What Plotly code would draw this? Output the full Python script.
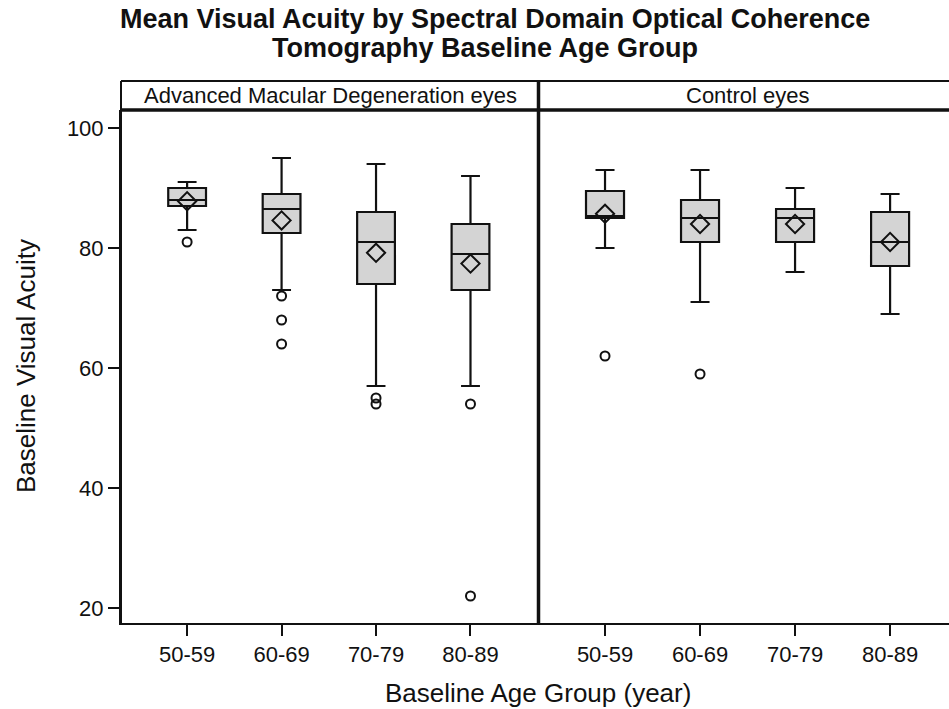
import plotly.graph_objects as go

# ---------------- data ----------------
categories = ["50-59", "60-69", "70-79", "80-89"]

amd_upper = [91, 95, 94, 92]
amd_q3 = [90, 89, 86, 84]
amd_median = [88, 86.5, 81, 79]
amd_q1 = [87, 82.5, 74, 73]
amd_lower = [83, 73, 57, 57]
amd_mean = [87.8, 84.6, 79.2, 77.4]
amd_outliers = [[81], [72, 68, 64], [55, 54], [54, 22]]

ctl_upper = [93, 93, 90, 89]
ctl_q3 = [89.5, 88, 86.5, 86]
ctl_median = [85.3, 85, 85, 81]
ctl_q1 = [85, 81, 81, 77]
ctl_lower = [80, 71, 76, 69]
ctl_mean = [85.7, 84, 84, 81]
ctl_outliers = [[62], [59], [], []]

panel_titles = ["Advanced Macular Degeneration eyes", "Control eyes"]
title_lines = ["Mean Visual Acuity by Spectral Domain Optical Coherence",
               "Tomography Baseline Age Group"]
y_ticks = [20, 40, 60, 80, 100]

# ---------------- layout geometry ----------------
W, H = 949, 709
ML, MR, MT, MB = 121, 0, 110, 86
PW, PH = W - ML - MR, H - MT - MB
FONT = "Liberation Sans, Arial, Helvetica, sans-serif"
INK = "#111111"


def px_x(px):
    return (px - ML) / PW


def px_y(py):
    return (H - MB - py) / PH


split = px_x(538.5)

fig = go.Figure()

panels = [
    ("x", amd_q1, amd_median, amd_q3, amd_lower, amd_upper, amd_mean, amd_outliers),
    ("x2", ctl_q1, ctl_median, ctl_q3, ctl_lower, ctl_upper, ctl_mean, ctl_outliers),
]

for xa, q1, med, q3, lo, up, mean, outs in panels:
    fig.add_trace(go.Box(
        x=categories, q1=q1, median=med, q3=q3,
        lowerfence=lo, upperfence=up,
        width=0.4, whiskerwidth=0.5,
        fillcolor="#d4d4d4",
        line=dict(color=INK, width=2.2),
        boxpoints=False, xaxis=xa, yaxis="y", showlegend=False,
        hoverinfo="skip",
    ))
    ox, oy = [], []
    for c, vals in zip(categories, outs):
        for v in vals:
            ox.append(c)
            oy.append(v)
    fig.add_trace(go.Scatter(
        x=ox, y=oy, mode="markers", xaxis=xa, yaxis="y",
        marker=dict(symbol="circle-open", size=9, color=INK,
                    line=dict(width=2, color=INK)),
        showlegend=False, hoverinfo="skip",
    ))
    fig.add_trace(go.Scatter(
        x=categories, y=mean, mode="markers", xaxis=xa, yaxis="y",
        marker=dict(symbol="diamond-open", size=14, color=INK,
                    line=dict(width=2, color=INK)),
        showlegend=False, hoverinfo="skip",
    ))

axis_common = dict(
    type="category", categoryorder="array", categoryarray=categories,
    showgrid=False, zeroline=False, showline=True, linecolor=INK,
    linewidth=2, ticks="outside", ticklen=11, tickwidth=1.5,
    tickcolor=INK, tickfont=dict(family=FONT, size=22, color=INK),
)

fig.update_layout(
    width=W, height=H,
    margin=dict(l=ML, r=MR, t=MT, b=MB),
    paper_bgcolor="white", plot_bgcolor="white",
    font=dict(family=FONT, color=INK),
    xaxis=dict(domain=[0, split], range=[-0.70, 3.72], anchor="y", **axis_common),
    xaxis2=dict(domain=[split, 1], range=[-0.70, 3.62], anchor="y", **axis_common),
    yaxis=dict(
        range=[17.5, 103], tickvals=y_ticks, showgrid=False, zeroline=False,
        showline=True, linecolor=INK, linewidth=2, ticks="outside",
        ticklen=11, tickwidth=1.5, tickcolor=INK,
        tickfont=dict(family=FONT, size=22, color=INK),
    ),
    showlegend=False,
)

# frame / header strip
hdr_top = px_y(81)
shapes = [
    dict(type="line", xref="paper", yref="paper", x0=0, x1=1.05, y0=hdr_top, y1=hdr_top,
         line=dict(color=INK, width=2)),
    dict(type="line", xref="paper", yref="paper", x0=0, x1=1.05, y0=1, y1=1,
         line=dict(color=INK, width=3.5)),
    dict(type="line", xref="paper", yref="paper", x0=0, x1=0, y0=0, y1=hdr_top,
         line=dict(color=INK, width=2)),
    dict(type="line", xref="paper", yref="paper", x0=split, x1=split, y0=0, y1=hdr_top,
         line=dict(color=INK, width=3.5)),
]
fig.update_layout(shapes=shapes)

ann = [
    dict(text=panel_titles[0], x=px_x(330), y=px_y(95.5), xref="paper", yref="paper",
         showarrow=False, font=dict(family=FONT, size=22, color=INK),
         xanchor="center", yanchor="middle"),
    dict(text=panel_titles[1], x=px_x(748), y=px_y(95.5), xref="paper", yref="paper",
         showarrow=False, font=dict(family=FONT, size=22, color=INK),
         xanchor="center", yanchor="middle"),
    dict(text="<b>" + title_lines[0] + "</b>",
         x=px_x(495), y=px_y(19), xref="paper", yref="paper", showarrow=False,
         font=dict(family=FONT, size=27, color=INK),
         xanchor="center", yanchor="middle"),
    dict(text="<b>" + title_lines[1] + "</b>",
         x=px_x(485), y=px_y(48), xref="paper", yref="paper", showarrow=False,
         font=dict(family=FONT, size=27, color=INK),
         xanchor="center", yanchor="middle"),
    dict(text="Baseline Age Group (year)", x=px_x(538), y=px_y(693), xref="paper", yref="paper",
         showarrow=False, font=dict(family=FONT, size=26, color=INK),
         xanchor="center", yanchor="middle"),
    dict(text="Baseline Visual Acuity", x=px_x(26), y=px_y(366), xref="paper", yref="paper",
         showarrow=False, textangle=-90, font=dict(family=FONT, size=26, color=INK),
         xanchor="center", yanchor="middle"),
]
fig.update_layout(annotations=ann)

fig.write_html("out.html")
